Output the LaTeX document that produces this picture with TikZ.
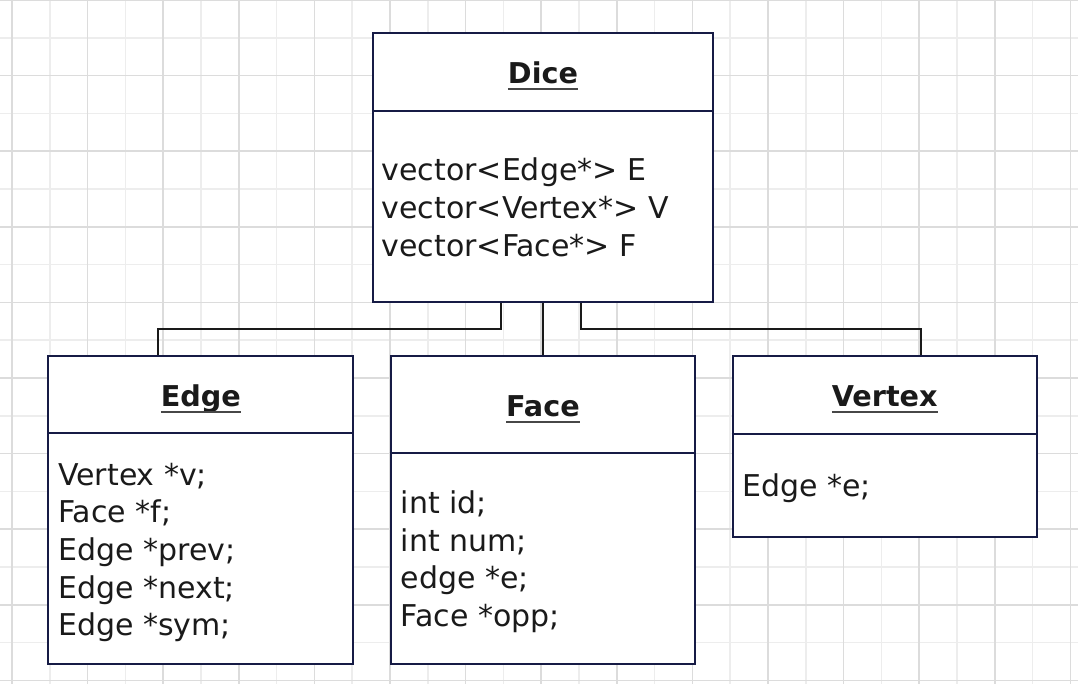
\documentclass[tikz,border=0pt]{standalone}
\usepackage{fontspec}
\setmainfont{DejaVu Sans}
\usetikzlibrary{fit}
\definecolor{gridD}{HTML}{DCDCDC}
\definecolor{gridL}{HTML}{EDEDED}
\definecolor{boxline}{HTML}{161B45}
\definecolor{ink}{HTML}{1A1A1A}
\definecolor{ulc}{HTML}{474747}
\tikzset{
  box/.style={draw=boxline, line width=1.5pt, fill=white, inner sep=0pt},
  divider/.style={draw=boxline, line width=1.5pt},
  conn/.style={draw=ink, line width=1.5pt},
  title/.style={font=\fontsize{21.5}{26}\selectfont\bfseries, text=ink, inner sep=0pt, outer sep=0pt, anchor=base},
  attr/.style={font=\fontsize{22.5}{28}\selectfont, text=ink, inner sep=0pt, outer sep=0pt, anchor=base west},
  ul/.style={draw=ulc, line width=1.5pt},
  gridlight/.style={draw=gridL, line width=1.2pt},
  griddark/.style={draw=gridD, line width=1.2pt},
}
\begin{document}
\begin{tikzpicture}[x=0.75pt,y=-0.75pt]
\useasboundingbox (0,0) rectangle (1078,684);
\fill[white] (0,0) rectangle (1078,684);
% grid
\foreach \k in {1,3,...,17} \draw[gridlight] (0,\k*37.8) -- (1078,\k*37.8);
\foreach \k in {1,3,...,27} \draw[gridlight] (12+\k*37.8,0) -- (12+\k*37.8,684);
\foreach \k in {0,2,...,18} \draw[griddark] (0,\k*37.8) -- (1078,\k*37.8);
\foreach \k in {0,2,...,28} \draw[griddark] (12+\k*37.8,0) -- (12+\k*37.8,684);

% boxes
\node[box, fit={(373,33) (713,302)}] (dice) {};
\node[box, fit={(48.3,355.7) (353.3,664)}] (edge) {};
\node[box, fit={(390.7,355.7) (695,664)}] (face) {};
\node[box, fit={(732.7,355.7) (1036.7,536.7)}] (vertex) {};

% dividers
\coordinate (dicediv) at (0,110.7);
\coordinate (edgediv) at (0,433.3);
\coordinate (facediv) at (0,453.3);
\coordinate (vertexdiv) at (0,434);
\draw[divider] (dice.west |- dicediv) -- (dice.east |- dicediv);
\draw[divider] (edge.west |- edgediv) -- (edge.east |- edgediv);
\draw[divider] (face.west |- facediv) -- (face.east |- facediv);
\draw[divider] (vertex.west |- vertexdiv) -- (vertex.east |- vertexdiv);

% titles
\node[title] (dicet) at (543,83.3) {Dice};
\node[title] (edget) at (200.8,406.7) {Edge};
\node[title] (facet) at (542.9,416.7) {Face};
\node[title] (vertext) at (884.7,406.7) {Vertex};
\foreach \n in {dicet,edget,facet,vertext}
  \draw[ul] ([yshift=-4pt]\n.base west) -- ([yshift=-4pt]\n.base east);

% attributes
\foreach \t [count=\i] in {vector<Edge*> E, vector<Vertex*> V, vector<Face*> F}
  \node[attr] (dice-\i) at (381.7,{180.7+(\i-1)*37.7}) {\t};
\foreach \t [count=\i] in {Vertex *v;, Face *f;, Edge *prev;, Edge *next;, Edge *sym;}
  \node[attr] (edge-\i) at (58.3,{485+(\i-1)*37.7}) {\t};
\foreach \t [count=\i] in {int id;, int num;, edge *e;, Face *opp;}
  \node[attr] (face-\i) at (400.7,{513.3+(\i-1)*37.7}) {\t};
\node[attr] (vertex-1) at (742.3,496.7) {Edge *e;};

% connectors
\coordinate (jl) at (501,329);
\coordinate (jle) at (158.4,329);
\coordinate (jr) at (581,329);
\coordinate (jre) at (920.6,329);
\draw[conn] (dice.south -| jl) -- (jl) -- (jle) -- (edge.north -| jle);
\draw[conn] (dice.south) -- (face.north -| dice.south);
\draw[conn] (dice.south -| jr) -- (jr) -- (jre) -- (vertex.north -| jre);
\end{tikzpicture}
\end{document}
